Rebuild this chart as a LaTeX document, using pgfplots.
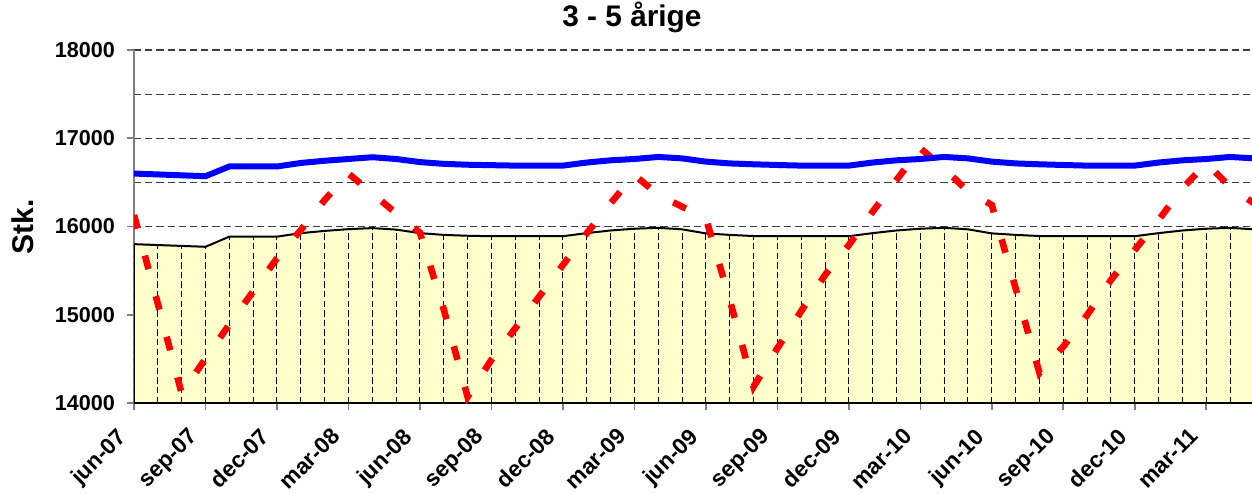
\documentclass[border=0pt]{standalone}
\usepackage{fontspec}
\setmainfont{Liberation Sans}
\usepackage{pgfplots}
\usepackage{pgfplotstable}
\pgfplotsset{compat=1.18}

\definecolor{arealyellow}{RGB}{255,255,204}
\definecolor{axisgray}{RGB}{128,128,128}
\definecolor{gridgray}{RGB}{60,60,60}

% m = months since jun-07
\pgfplotstableread{
m  blue   area   red
0  16600  15800  16130
1  16590  15790  15125
2  16580  15780  14110
3  16570  15770  14503
4  16680  15885  14890
5  16680  15885  15265
6  16680  15885  15640
7  16720  15925  15960
8  16745  15950  16300
9  16765  15970  16600
10 16785  15982  16376
11 16765  15965  16150
12 16730  15925  15930
13 16710  15905  15060
14 16700  15895  14070
15 16695  15890  14490
16 16690  15890  14846
17 16690  15890  15205
18 16690  15890  15564
19 16725  15925  15923
20 16750  15955  16263
21 16765  15975  16584
22 16788  15985  16360
23 16772  15968  16225
24 16735  15922  16095
25 16715  15905  15170
26 16705  15892  14185
27 16697  15890  14620
28 16690  15890  15042
29 16690  15890  15450
30 16690  15890  15790
31 16725  15925  16168
32 16750  15955  16527
33 16765  15975  16886
34 16788  15985  16660
35 16772  15968  16395
36 16735  15922  16244
37 16715  15905  15300
38 16705  15892  14340
39 16697  15890  14640
40 16690  15890  14997
41 16690  15890  15394
42 16690  15890  15734
43 16725  15925  16074
44 16750  15955  16433
45 16765  15975  16716
46 16788  15985  16451
47 16772  15968  16263
}\stkdata

\begin{document}
\begin{tikzpicture}
\begin{axis}[
    at={(0,0)}, anchor=south west,
    scale only axis,
    width=559pt, height=176.5pt,
    xmin=0, xmax=46.92,
    ymin=14000, ymax=18000,
    axis x line*=bottom,
    axis y line*=left,
    x axis line style={black, line width=1pt},
    y axis line style={axisgray, line width=1pt},
    xtick={0,3,...,45},
    xticklabels={jun-07,sep-07,dec-07,mar-08,jun-08,sep-08,dec-08,mar-09,
                 jun-09,sep-09,dec-09,mar-10,jun-10,sep-10,dec-10,mar-11},
    ytick={14000,15000,16000,17000,18000},
    minor ytick={14500,15500,16500,17500},
    ymajorgrids, yminorgrids,
    major grid style={gridgray, line width=0.6pt, dash pattern=on 3.6pt off 2pt},
    minor grid style={gridgray, line width=0.6pt, dash pattern=on 3.6pt off 2pt},
    tick align=outside,
    major tick length=3.5pt, minor tick length=0pt,
    tick style={axisgray, line width=0.8pt},
    scaled y ticks=false,
    /pgf/number format/assume math mode=true,
    /pgf/number format/1000 sep={},
    yticklabel style={font=\fontsize{10.8}{12}\selectfont\bfseries, xshift=-2.5pt},
    xticklabel style={font=\fontsize{11.3}{13}\selectfont\bfseries,
                      inner sep=0pt, xshift=-9.15pt, yshift=-8.15pt,
                      rotate=45, anchor=north east},
    title={3 - 5 årige},
    title style={font=\fontsize{14.9}{17}\selectfont\bfseries,
                 at={(axis description cs:0.4454,1)}, anchor=base, yshift=5.9pt},
    ylabel={Stk.},
    every axis y label/.style={font=\fontsize{15}{17}\selectfont\bfseries,
                 at={(axis description cs:0,0.5)}, xshift=-55.5pt,
                 rotate=90, anchor=center},
]
% shaded area
\addplot[draw=black, line width=1pt, fill=arealyellow]
    table[x=m, y=area] {\stkdata} \closedcycle;
% drop lines
\addplot[ycomb, black, line width=0.5pt, dash pattern=on 3.2pt off 1.6pt]
    table[x=m, y=area] {\stkdata};
% red dashed series
\addplot[red, line width=3.3pt, line cap=butt, dash pattern=on 7pt off 14pt]
    table[x=m, y=red] {\stkdata};
% blue series
\addplot[blue, line width=3pt, line join=round]
    table[x=m, y=blue] {\stkdata};
\end{axis}
\pgfresetboundingbox
\path (-67pt,-45pt) rectangle (559pt,201.5pt);
\end{tikzpicture}
\end{document}
